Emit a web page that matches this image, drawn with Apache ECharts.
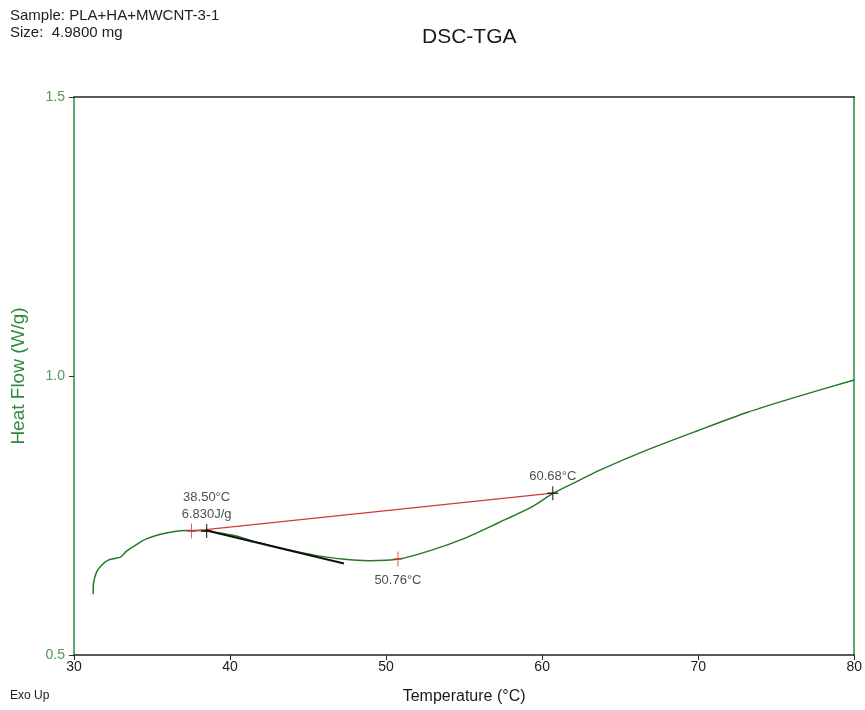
<!DOCTYPE html>
<html>
<head>
<meta charset="utf-8">
<script src="https://cdn.jsdelivr.net/npm/echarts@6/dist/echarts.min.js"></script>
<style>
  html, body { margin: 0; padding: 0; background: #fff; overflow: hidden; }
  #chart { width: 865px; height: 710px; }
</style>
</head>
<body>
<div id="chart"></div>
<script>
// DSC heat-flow trace (temperature in °C, heat flow in W/g)
const curveT  = [31.23, 31.25, 31.45, 31.77, 32.19, 32.62, 32.94, 33.05, 33.37, 34.00, 34.64, 35.49, 36.34, 37.20, 38.05, 38.58, 40.15, 41.88, 43.79, 45.39, 47.18, 48.90, 50.82, 52.92, 55.10, 57.20, 59.31, 60.72, 62.31, 63.59, 66.78, 69.97, 73.17, 76.36, 80.00];
const curveHF = [0.609, 0.628, 0.649, 0.661, 0.670, 0.673, 0.675, 0.677, 0.686, 0.698, 0.708, 0.716, 0.721, 0.723, 0.723, 0.722, 0.715, 0.701, 0.688, 0.679, 0.672, 0.669, 0.672, 0.688, 0.710, 0.737, 0.765, 0.790, 0.812, 0.830, 0.868, 0.902, 0.935, 0.963, 0.993];

// Integration baseline (red) and onset tangent (black)
const baselineT  = [37.53, 60.68];
const baselineHF = [0.722, 0.790];
const tangentT   = [38.50, 47.30];
const tangentHF  = [0.723, 0.664];

// Analysis markers
const limitT  = [37.53, 50.76];      // red ticks: integration limit and peak
const limitHF = [0.722, 0.672];
const crossT  = [38.50, 60.68];      // black crosses: onset and end
const crossHF = [0.722, 0.790];
const onsetText = ['38.50°C', '6.830J/g'];
const peakText  = '50.76°C';
const endText   = '60.68°C';

// Axis tick settings
const xMin = 30, xMax = 80, xStep = 10;
const yMin = 0.5, yMax = 1.5, yStep = 0.5;

const pairs = (xs, ys) => xs.map((x, i) => [x, ys[i]]);

const FONT = "'Liberation Sans', Arial, sans-serif";
const GREEN = '#2f8a3c';
const CURVE = '#237a23';

const plusSym = 'path://M5,0V14M0,7H10';

const chart = echarts.init(document.getElementById('chart'), null, { renderer: 'canvas' });

chart.setOption({
  backgroundColor: '#fff',
  animation: false,
  title: {
    text: 'DSC-TGA',
    left: 417,
    top: 22,
    textStyle: { fontFamily: FONT, fontSize: 21, fontWeight: 'normal', color: '#1a1a1a' }
  },
  graphic: [
    { type: 'text', left: 10, top: 8, style: { text: 'Sample: PLA+HA+MWCNT-3-1', font: '15px ' + FONT, fill: '#222' } },
    { type: 'text', left: 10, top: 25, style: { text: 'Size:  4.9800 mg', font: '15px ' + FONT, fill: '#222' } },
    { type: 'text', left: 10, top: 690, style: { text: 'Exo Up', font: '12px ' + FONT, fill: '#222' } }
  ],
  grid: { left: 74, right: 8, top: 97, bottom: 55, containLabel: false },
  xAxis: [
    {
      type: 'value', min: xMin, max: xMax, interval: xStep, position: 'bottom',
      name: 'Temperature (°C)', nameLocation: 'middle', nameGap: 34,
      nameTextStyle: { fontFamily: FONT, fontSize: 16, color: '#1a1a1a' },
      axisLine: { show: true, onZero: false, lineStyle: { color: '#1c2a1c', width: 1.5 } },
      axisTick: { show: true, inside: false, length: 5, lineStyle: { color: '#1c2a1c' } },
      axisLabel: { margin: 5, fontFamily: FONT, fontSize: 14, color: '#1a1a1a' },
      splitLine: { show: false }
    },
    {
      type: 'value', min: xMin, max: xMax, position: 'top',
      axisLine: { show: true, onZero: false, lineStyle: { color: '#1c2a1c', width: 1.5 } },
      axisTick: { show: false }, axisLabel: { show: false }, splitLine: { show: false }
    }
  ],
  yAxis: [
    {
      type: 'value', min: yMin, max: yMax, interval: yStep, position: 'left',
      name: 'Heat Flow (W/g)', nameLocation: 'middle', nameGap: 46,
      nameTextStyle: { fontFamily: FONT, fontSize: 19, color: GREEN },
      axisLine: { show: true, onZero: false, lineStyle: { color: GREEN, width: 1.5 } },
      axisTick: { show: true, inside: false, length: 5, lineStyle: { color: '#333' } },
      axisLabel: { margin: 9, fontFamily: FONT, fontSize: 14, color: '#4f9a5c', formatter: v => v.toFixed(1) },
      splitLine: { show: false }
    },
    {
      type: 'value', min: yMin, max: yMax, position: 'right',
      axisLine: { show: true, onZero: false, lineStyle: { color: GREEN, width: 1.5 } },
      axisTick: { show: false }, axisLabel: { show: false }, splitLine: { show: false }
    }
  ],
  series: [
    {
      name: 'Heat Flow', type: 'line', data: pairs(curveT, curveHF),
      smooth: 0.25, showSymbol: false, silent: true,
      lineStyle: { color: CURVE, width: 1.5 }, z: 3
    },
    {
      name: 'Baseline', type: 'line', data: pairs(baselineT, baselineHF),
      showSymbol: false, silent: true,
      lineStyle: { color: '#d23a3a', width: 1.3 }, z: 4
    },
    {
      name: 'Tangent', type: 'line', data: pairs(tangentT, tangentHF),
      showSymbol: false, silent: true,
      lineStyle: { color: '#111', width: 2 }, z: 5
    },
    {
      name: 'Limits', type: 'scatter', data: pairs(limitT, limitHF),
      symbol: plusSym, symbolSize: [9, 15], symbolKeepAspect: false,
      itemStyle: { color: 'none', borderColor: '#d23a3a', borderWidth: 1.3 },
      label: {
        show: true,
        formatter: p => (p.dataIndex === 1 ? peakText : ''),
        position: 'bottom', distance: 4,
        fontFamily: FONT, fontSize: 13, color: '#222'
      },
      z: 6
    },
    {
      name: 'Crosses', type: 'scatter', data: pairs(crossT, crossHF),
      symbol: plusSym, symbolSize: [11, 14], symbolKeepAspect: false,
      itemStyle: { color: 'none', borderColor: '#111', borderWidth: 1.4 },
      label: {
        show: true,
        formatter: p => (p.dataIndex === 0 ? onsetText.join('\n') : endText),
        position: 'top', distance: -2, lineHeight: 17,
        fontFamily: FONT, fontSize: 13, color: '#222'
      },
      z: 7
    }
  ]
});
</script>
</body>
</html>
